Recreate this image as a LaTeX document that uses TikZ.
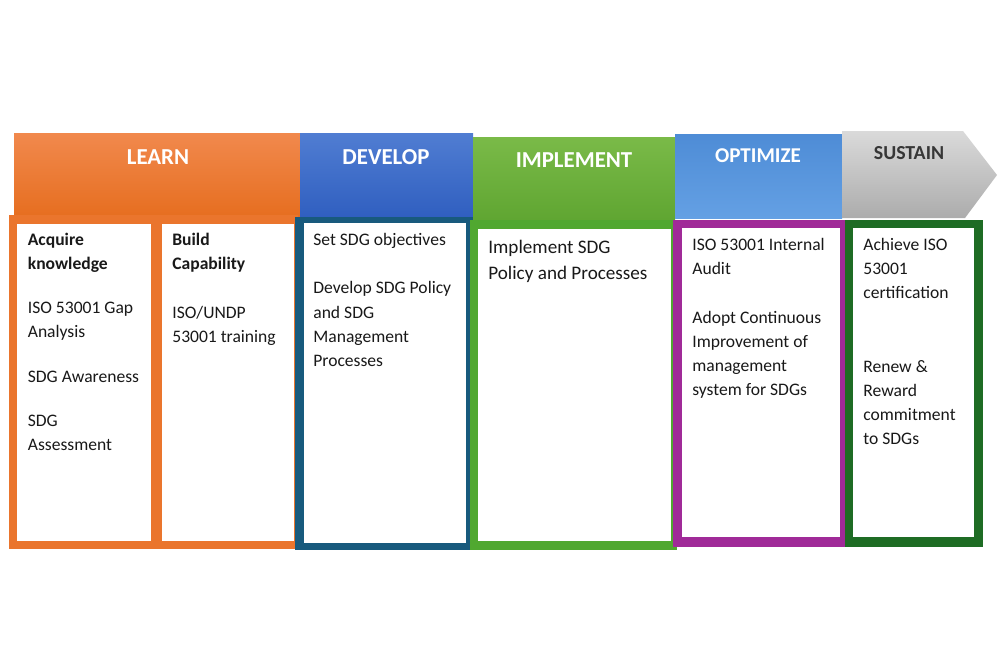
\documentclass[tikz,border=0pt]{standalone}
\usepackage{fontspec}
\setmainfont{Carlito}
\definecolor{orangeA}{RGB}{241,137,77}
\definecolor{orangeB}{RGB}{230,110,32}
\definecolor{orangeF}{RGB}{234,117,45}
\definecolor{blueA}{RGB}{80,125,210}
\definecolor{blueB}{RGB}{48,95,192}
\definecolor{tealF}{RGB}{24,90,125}
\definecolor{greenA}{RGB}{122,186,72}
\definecolor{greenB}{RGB}{96,166,50}
\definecolor{greenF}{RGB}{80,168,48}
\definecolor{ltblueA}{RGB}{78,140,214}
\definecolor{ltblueB}{RGB}{100,160,228}
\definecolor{purpleF}{RGB}{160,42,152}
\definecolor{dgreenF}{RGB}{30,108,36}
\definecolor{grayA}{RGB}{218,218,218}
\definecolor{grayB}{RGB}{172,172,172}
\definecolor{sustxt}{RGB}{55,55,55}
\begin{document}
\begin{tikzpicture}[x=0.02cm,y=-0.02cm,
  hdr/.style={font=\fontsize{13}{15}\selectfont\bfseries, text=white, inner sep=0pt},
  body/.style={font=\fontsize{10}{13.75}\selectfont, align=left, anchor=north west, inner sep=0pt, text=black!90},
  bodybig/.style={font=\fontsize{10.9}{14.74}\selectfont, align=left, anchor=north west, inner sep=0pt, text=black!90}]
\useasboundingbox[fill=white] (0,0) rectangle (1000,667);
% headers
\shade[top color=orangeA, bottom color=orangeB] (14,133) rectangle (300,216);
\shade[top color=blueA, bottom color=blueB] (300,133) rectangle (473,217);
\shade[top color=greenA, bottom color=greenB] (473,137) rectangle (675,219);
\shade[top color=ltblueA, bottom color=ltblueB] (675,134) rectangle (842,218);
\shade[top color=grayA, bottom color=grayB] (842,131) -- (963,131) -- (997,175) -- (965,218) -- (842,218) -- cycle;
\node[hdr] (hlearn) at (158,157) {LEARN};
\node[hdr] (hdev) at (386,157) {DEVELOP};
\node[hdr] (himp) at (574,160) {IMPLEMENT};
\node[hdr, font=\fontsize{12}{14}\selectfont\bfseries] (hopt) at (758,156) {OPTIMIZE};
\node[hdr, font=\fontsize{11.3}{13}\selectfont\bfseries, text=sustxt] (hsus) at (909,153) {SUSTAIN};
% frames
\fill[orangeF] (9,215) rectangle (298,549);
\fill[white] (17,224) rectangle (151,541);
\fill[white] (162,224) rectangle (294,541);
\fill[tealF] (295,217) rectangle (473,550);
\fill[white] (304,223) rectangle (466,543);
\fill[greenF] (470,220) rectangle (677,550);
\fill[white] (478,229) rectangle (671,541);
\fill[purpleF] (673,220) rectangle (845,547);
\fill[white] (682,228) rectangle (840,537);
\fill[dgreenF] (845,220) rectangle (983,547);
\fill[white] (853,228) rectangle (974,537);
% texts
\node[body] (tacq) at (27.5,228.2) {\strut\textbf{Acquire}\\\textbf{knowledge}\\[11.4pt]ISO 53001 Gap\\Analysis\\[11.4pt]SDG Awareness\\[11.4pt]SDG\\Assessment};
\node[body] (tbuild) at (172,228.2) {\strut\textbf{Build}\\\textbf{Capability}\\[13.8pt]ISO/UNDP\\53001 training};
\node[body] (tdev) at (313,228.2) {\strut Set SDG objectives\\[13.8pt]Develop SDG Policy\\and SDG\\Management\\Processes};
\node[bodybig] (timp) at (488,234.8) {\strut Implement SDG\\Policy and Processes};
\node[body] (topt) at (692,233.2) {\strut ISO 53001 Internal\\Audit\\[14pt]Adopt Continuous\\Improvement of\\management\\system for SDGs};
\node[body] (tsus) at (863,233.2) {\strut Achieve ISO\\53001\\certification\\[28pt]Renew \&\\Reward\\commitment\\to SDGs};
\end{tikzpicture}
\end{document}
